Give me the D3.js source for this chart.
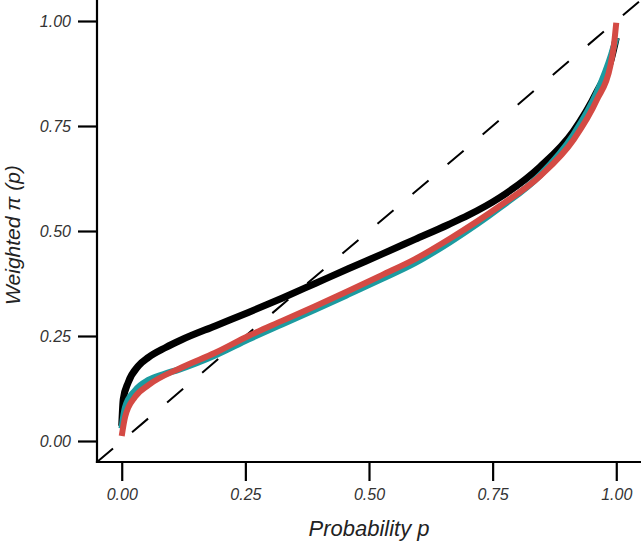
<!DOCTYPE html>
<html>
<head>
<meta charset="utf-8">
<script src="https://cdn.jsdelivr.net/npm/d3@7"></script>
<style>
  html, body { margin: 0; padding: 0; background: #fff; }
  svg { display: block; }
</style>
</head>
<body>
<div id="chart"></div>
<script>
// ---- data ----
const xTicks = [0, 0.25, 0.5, 0.75, 1];
const yTicks = [0, 0.25, 0.5, 0.75, 1];
const xTickLabels = ["0.00", "0.25", "0.50", "0.75", "1.00"];
const yTickLabels = ["0.00", "0.25", "0.50", "0.75", "1.00"];

const blackP = [0, 0.003, 0.013, 0.034, 0.054, 0.088, 0.121, 0.189, 0.256, 0.324, 0.391, 0.458, 0.526, 0.593, 0.66, 0.70, 0.765, 0.846, 0.913, 0.96, 0.99, 1.0];
const blackW = [0.036, 0.099, 0.139, 0.179, 0.199, 0.222, 0.241, 0.274, 0.306, 0.340, 0.375, 0.410, 0.445, 0.480, 0.515, 0.537, 0.580, 0.653, 0.737, 0.830, 0.910, 0.960];

const tealP = [0, 0.007, 0.027, 0.054, 0.085, 0.115, 0.189, 0.256, 0.324, 0.391, 0.458, 0.526, 0.593, 0.664, 0.765, 0.846, 0.914, 0.961, 0.99, 1.0];
const tealW = [0.03, 0.080, 0.120, 0.145, 0.159, 0.170, 0.204, 0.242, 0.278, 0.313, 0.349, 0.386, 0.424, 0.474, 0.556, 0.633, 0.730, 0.830, 0.920, 0.960];

const redP = [0, 0.007, 0.027, 0.054, 0.121, 0.189, 0.256, 0.324, 0.391, 0.458, 0.526, 0.593, 0.664, 0.765, 0.846, 0.914, 0.961, 0.988, 0.995, 1.0];
const redW = [0.012, 0.058, 0.105, 0.133, 0.175, 0.210, 0.250, 0.286, 0.321, 0.357, 0.395, 0.433, 0.482, 0.560, 0.631, 0.718, 0.813, 0.893, 0.940, 0.996];

const diagP = [-0.05, 1.05];

const seriesNames = ["black", "teal", "red"];
const seriesColors = ["#000000", "#1c9ba0", "#d44a44"];

// ---- layout ----
const W = 641, H = 548;
const svg = d3.select("#chart").append("svg").attr("width", W).attr("height", H);

const x = d3.scaleLinear().domain([-0.05, 1.05]).range([97, 641]);
const y = d3.scaleLinear().domain([-0.05, 1.05]).range([462, 0]);

const font = "'Liberation Sans', Arial, Helvetica, sans-serif";

// diagonal dashed
svg.append("line")
  .attr("x1", x(diagP[0])).attr("y1", y(diagP[0]))
  .attr("x2", x(diagP[1])).attr("y2", y(diagP[1]))
  .attr("stroke", "#000").attr("stroke-width", 2)
  .attr("stroke-dasharray", "21,25");

const line = d3.line()
  .x(d => x(d[0])).y(d => y(d[1]))
  .curve(d3.curveMonotoneX);

const series = [
  { p: blackP, w: blackW, width: 7 },
  { p: tealP, w: tealW, width: 6.5 },
  { p: redP, w: redW, width: 6 }
];
series.forEach((s, i) => {
  const pts = s.p.map((p, j) => [p, s.w[j]]);
  svg.append("path")
    .attr("d", line(pts))
    .attr("fill", "none")
    .attr("stroke", seriesColors[i])
    .attr("stroke-width", s.width)
    .attr("stroke-linejoin", "round")
    .attr("class", "series-" + seriesNames[i]);
});

// axes
const xAxis = d3.axisBottom(x).tickValues(xTicks)
  .tickFormat((d, i) => xTickLabels[i]).tickSize(19).tickPadding(8);
const yAxis = d3.axisLeft(y).tickValues(yTicks)
  .tickFormat((d, i) => yTickLabels[i]).tickSize(19).tickPadding(7);

const gx = svg.append("g").attr("transform", `translate(0,${y(-0.05)})`).call(xAxis);
const gy = svg.append("g").attr("transform", `translate(${x(-0.05)},0)`).call(yAxis);

[gx, gy].forEach(g => {
  g.select(".domain").remove();
  g.selectAll(".tick line").attr("stroke", "#000").attr("stroke-width", 2.2);
  g.selectAll(".tick text")
    .attr("fill", "#333")
    .style("font-family", font)
    .style("font-style", "italic")
    .style("font-size", "16px");
});

// axis lines (L-shape)
svg.append("line")
  .attr("x1", x(-0.05)).attr("x2", x(1.05))
  .attr("y1", y(-0.05)).attr("y2", y(-0.05))
  .attr("stroke", "#000").attr("stroke-width", 2.2).attr("stroke-linecap", "square");
svg.append("line")
  .attr("x1", x(-0.05)).attr("x2", x(-0.05))
  .attr("y1", y(-0.05)).attr("y2", y(1.05))
  .attr("stroke", "#000").attr("stroke-width", 2.2).attr("stroke-linecap", "square");

// titles
svg.append("text")
  .attr("x", (x(0) + x(1)) / 2).attr("y", 536)
  .attr("text-anchor", "middle")
  .attr("fill", "#222")
  .style("font-family", font).style("font-style", "italic").style("font-size", "22px")
  .text("Probability p");

svg.append("text")
  .attr("transform", `translate(20,${(y(0) + y(1)) / 2 + 4}) rotate(-90)`)
  .attr("text-anchor", "middle")
  .attr("fill", "#222")
  .style("font-family", font).style("font-style", "italic").style("font-size", "21px")
  .text("Weighted π (p)");
</script>
</body>
</html>
